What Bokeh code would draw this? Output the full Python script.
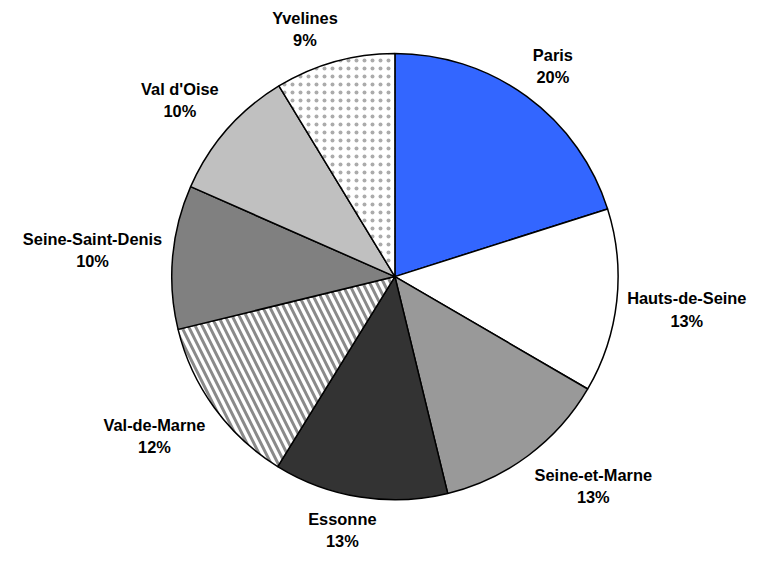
import math
from bokeh.plotting import figure
from bokeh.models import Range1d, ColumnDataSource
from bokeh.core.properties import value
from bokeh.embed import file_html
from bokeh.resources import INLINE

# ---- data ----
regions = ["Paris", "Hauts-de-Seine", "Seine-et-Marne", "Essonne",
           "Val-de-Marne", "Seine-Saint-Denis", "Val d'Oise", "Yvelines"]
shares = [20.1, 13.3, 12.8, 12.6, 12.4, 10.4, 9.7, 8.7]

# ---- styles ----
fill_colors = ["#3366FF", "#FFFFFF", "#999999", "#333333",
               "#FFFFFF", "#808080", "#C0C0C0", "#FFFFFF"]
hatch_patterns = [" ", " ", " ", " ", "\\", " ", " ", "."]
hatch_colors = ["#808080", "#808080", "#808080", "#808080",
                "#8A8A8A", "#808080", "#808080", "#ABABAB"]
hatch_scales = [10, 10, 10, 10, 14, 10, 10, 8]
hatch_weights = [1, 1, 1, 1, 3, 1, 1, 1]

W, H = 759, 552
S = 0.962                                  # overall layout scale
OX = (W - 775 * S) / 2
CX, CY = 403 * S + OX, 287 * S              # pie centre (px from top-left)
R = 232 * S
FONT = 17 * S
GAP = 11 * S
LINE = 23 * S

# Arial/Liberation Sans Bold advance widths (per 1000 em)
CW = {"P": 667, "a": 556, "r": 389, "i": 278, "s": 556, "H": 722, "u": 611,
      "t": 333, "-": 333, "d": 611, "e": 556, "S": 667, "n": 611, "M": 833,
      "E": 667, "o": 611, "V": 667, "l": 278, "D": 722, "'": 238, "O": 778,
      " ": 278, "Y": 667, "v": 556, "%": 889}


def text_width(s):
    return sum(CW.get(c, 556) for c in s) * FONT / 1000.0


def clip1(t):
    return max(-1.0, min(1.0, t))


total = sum(shares)
starts, ends, pcts = [], [], []
lx, ly_name, ly_pct = [], [], []
cum = 0.0
for name, v in zip(regions, shares):
    a0 = math.pi / 2 - 2 * math.pi * cum / total
    cum += v
    a1 = math.pi / 2 - 2 * math.pi * cum / total
    starts.append(a0)
    ends.append(a1)
    pct = f"{round(v / total * 100)}%"
    pcts.append(pct)
    mid = (a0 + a1) / 2
    ux, uy = math.cos(mid), math.sin(mid)
    hw = max(text_width(name), text_width(pct)) / 2
    hh = LINE
    bx = (R + GAP) * ux + hw * clip1(3 * ux)
    by = (R + GAP) * uy + hh * clip1(3 * uy)
    lx.append(bx)
    ly_name.append(by + LINE / 2)
    ly_pct.append(by - LINE / 2)

src = ColumnDataSource(dict(
    region=regions, share=shares, start=starts, end=ends,
    color=fill_colors, hatch=hatch_patterns, hcolor=hatch_colors,
    hscale=hatch_scales, hweight=hatch_weights,
    lx=lx, lyn=ly_name, lyp=ly_pct, pct=pcts,
))

p = figure(width=W, height=H, output_backend="svg", toolbar_location=None,
           x_axis_type=None, y_axis_type=None,
           x_range=Range1d(-CX, W - CX), y_range=Range1d(-(H - CY), CY),
           min_border=0)
p.outline_line_color = None
p.grid.visible = False
p.background_fill_color = "white"
p.border_fill_color = "white"

p.wedge(x=0, y=0, radius=R, start_angle="start", end_angle="end",
        direction="clock", fill_color="color", line_color="black",
        line_width=1.5, hatch_pattern="hatch", hatch_color="hcolor",
        hatch_scale="hscale", hatch_weight="hweight", source=src)

p.text(x="lx", y="lyn", text="region", source=src,
       text_font=value("Liberation Sans"), text_font_style="bold",
       text_font_size=f"{FONT:.1f}px", text_align="center",
       text_baseline="middle", text_color="black")
p.text(x="lx", y="lyp", text="pct", source=src,
       text_font=value("Liberation Sans"), text_font_style="bold",
       text_font_size=f"{FONT:.1f}px", text_align="center",
       text_baseline="middle", text_color="black")

open("out.html", "w").write(file_html(p, INLINE))
